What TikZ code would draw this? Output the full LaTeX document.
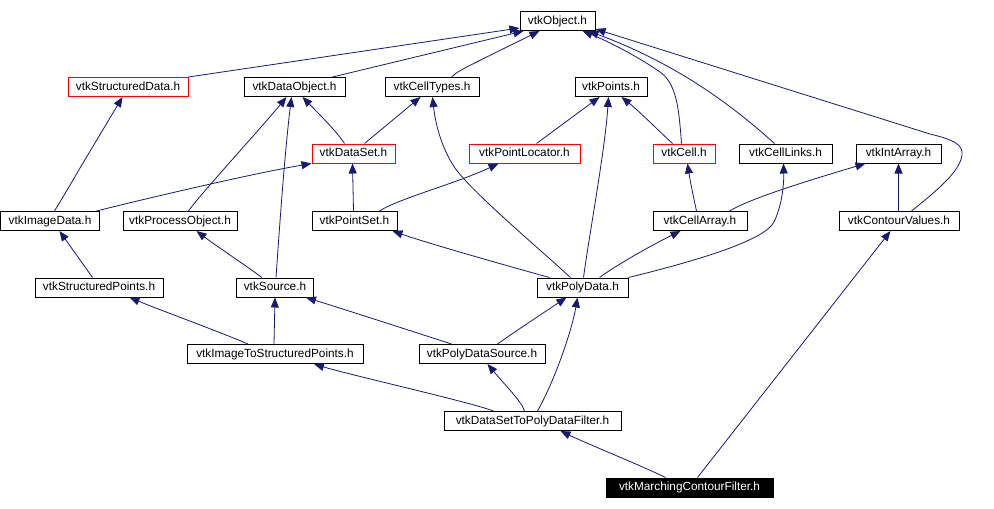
\documentclass[tikz,border=0pt]{standalone}
\usepackage{fontspec}
\setmainfont{Liberation Sans}
\usetikzlibrary{arrows.meta}
\definecolor{edgec}{RGB}{25,25,112}
\begin{document}
\begin{tikzpicture}[x=1pt,y=-1pt,
  box/.style={draw=black, line width=1pt, minimum height=19pt, inner sep=0pt,
    text height=8.6pt, text depth=2.4pt,
    font=\fontsize{11.8}{14}\selectfont, fill=white},
  redbox/.style={box, draw=red},
  blackbox/.style={box, fill=black, text=white},
  dep/.style={draw=edgec, line width=0.8pt, -{Triangle[length=10pt,width=8pt]}}]
\useasboundingbox[fill=white] (0,0) rectangle (994,509);
% row 0
\node[box, minimum width=75pt] (obj) at (557.5,21) {vtkObject.h};
% row 1
\node[redbox, minimum width=120pt] (sdata) at (128,87) {vtkStructuredData.h};
\node[box, minimum width=101pt] (dobj) at (294.5,87) {vtkDataObject.h};
\node[box, minimum width=94pt] (ctypes) at (432,87) {vtkCellTypes.h};
\node[box, minimum width=72pt] (points) at (611,87) {vtkPoints.h};
% row 2
\node[redbox, minimum width=83pt] (dset) at (353.5,153.5) {vtkDataSet.h};
\node[redbox, minimum width=111pt] (ploc) at (524.5,153.5) {vtkPointLocator.h};
\node[redbox, minimum width=62pt] (cell) at (684,153.5) {vtkCell.h};
\node[box, minimum width=93pt] (clinks) at (785.5,153.5) {vtkCellLinks.h};
\node[box, minimum width=85pt] (iarr) at (898.5,153.5) {vtkIntArray.h};
% row 3
\node[box, minimum width=99pt] (idata) at (50,221) {vtkImageData.h};
\node[box, minimum width=114pt] (pobj) at (180,221) {vtkProcessObject.h};
\node[box, minimum width=85pt] (pset) at (354.5,221) {vtkPointSet.h};
\node[box, minimum width=94pt] (carr) at (700,221) {vtkCellArray.h};
\node[box, minimum width=120pt] (cvals) at (899,221) {vtkContourValues.h};
% row 4
\node[box, minimum width=128pt] (spts) at (99,287.5) {vtkStructuredPoints.h};
\node[box, minimum width=77pt] (src) at (275,287.5) {vtkSource.h};
\node[box, minimum width=91pt] (pdata) at (582.5,287.5) {vtkPolyData.h};
% row 5
\node[box, minimum width=176pt] (i2sp) at (275,354) {vtkImageToStructuredPoints.h};
\node[box, minimum width=126pt] (pdsrc) at (482,354) {vtkPolyDataSource.h};
% row 6
\node[box, minimum width=177pt] (ds2pdf) at (532.5,421) {vtkDataSetToPolyDataFilter.h};
% row 7
\node[blackbox, minimum width=167pt] (mcf) at (689.5,487.5) {vtkMarchingContourFilter.h};
% edges
\draw[dep] (sdata.north east) -- ([yshift=3pt]obj.south west);
\draw[dep] ([xshift=89pt]dobj.north west) -- ([xshift=4pt]obj.south west);
\draw[dep] ([xshift=67pt]ctypes.north west) .. controls (458,71) .. ([xshift=20pt]obj.south west);
\draw[dep] ([xshift=29pt]cell.north west) .. controls (679,110) and (677,84) .. (660,72) .. controls (640,58) and (610,42) .. ([xshift=63pt]obj.south west);
\draw[dep] ([xshift=36pt]clinks.north west) .. controls (735,108) and (680,65) .. ([xshift=69pt]obj.south west);
\draw[dep] ([xshift=73pt]cvals.north west) .. controls (935,192) and (960,172) .. (962,155) .. controls (963,145) and (955,140) .. (930,134) -- ([yshift=2pt]obj.south east);
\draw[dep] ([xshift=33pt]dset.north west) .. controls (337,132) and (322,117) .. ([xshift=59pt]dobj.south west);
\draw[dep] ([xshift=53pt]dset.north west) -- ([xshift=36pt]ctypes.south west);
\draw[dep] ([xshift=66pt]pobj.north west) .. controls (197,198) and (262,127) .. ([xshift=43pt]dobj.south west);
\draw[dep] ([xshift=40pt]src.north west) .. controls (280,220) and (285,150) .. ([xshift=48pt]dobj.south west);
\draw[dep] ([xshift=54.5pt]idata.north west) .. controls (63,197) and (72,182) .. (80,168) -- ([xshift=55pt]sdata.south west);
\draw[dep] ([xshift=96.5pt]idata.north west) .. controls (140,200) and (250,174) .. (dset.south west);
\draw[dep] ([xshift=42pt]pset.north west) -- ([xshift=41pt]dset.south west);
\draw[dep] ([xshift=68pt]pset.north west) .. controls (400,198) and (455,184) .. ([xshift=30pt]ploc.south west);
\draw[dep] ([xshift=68pt]ploc.north west) -- ([xshift=25pt]points.south west);
\draw[dep] ([xshift=20pt]cell.north west) .. controls (660,132) and (640,112) .. ([xshift=47pt]points.south west);
\draw[dep] ([xshift=47pt]pdata.north west) .. controls (590,230) and (605,150) .. ([xshift=34pt]points.south west);
\draw[dep] ([xshift=34pt]pdata.north west) .. controls (535,245) and (472,192) .. (455,168) .. controls (440,146) and (435,120) .. ([xshift=48pt]ctypes.south west);
\draw[dep] ([xshift=13pt]pdata.north west) .. controls (515,268) and (430,244) .. ([xshift=81pt]pset.south west);
\draw[dep] ([xshift=63pt]pdata.north west) .. controls (615,266) and (650,246) .. ([xshift=28pt]carr.south west);
\draw[dep] (pdata.north east) .. controls (700,260) and (765,240) .. (774,222) .. controls (782,205) and (784,185) .. ([xshift=45pt]clinks.south west);
\draw[dep] ([xshift=44pt]carr.north west) .. controls (693,195) and (690,180) .. ([xshift=35pt]cell.south west);
\draw[dep] ([xshift=77pt]carr.north west) .. controls (748,200) and (790,186) .. ([xshift=10pt]iarr.south west);
\draw[dep] ([xshift=60pt]cvals.north west) -- ([xshift=43pt]iarr.south west);
\draw[dep] ([xshift=58pt]spts.north west) -- ([xshift=59.5pt]idata.south west);
\draw[dep] ([xshift=26pt]src.north west) .. controls (245,265) and (215,245) .. ([xshift=74pt]pobj.south west);
\draw[dep] ([xshift=61.5pt]i2sp.north west) .. controls (220,332) and (160,310) .. ([xshift=95pt]spts.south west);
\draw[dep] ([xshift=87.5pt]i2sp.north west) -- ([xshift=39pt]src.south west);
\draw[dep] ([xshift=33pt]pdsrc.north west) .. controls (430,337) and (340,308) .. ([xshift=70pt]src.south west);
\draw[dep] ([xshift=79pt]pdsrc.north west) .. controls (510,335) and (540,315) .. ([xshift=30pt]pdata.south west);
\draw[dep] ([xshift=50pt]ds2pdf.north west) .. controls (470,402) and (350,375) .. ([xshift=127.5pt]i2sp.south west);
\draw[dep] ([xshift=81pt]ds2pdf.north west) .. controls (522,402) and (505,385) .. ([xshift=69pt]pdsrc.south west);
\draw[dep] ([xshift=94pt]ds2pdf.north west) .. controls (555,380) and (572,330) .. ([xshift=41pt]pdata.south west);
\draw[dep] ([xshift=60pt]mcf.north west) .. controls (640,465) and (590,445) .. ([xshift=117pt]ds2pdf.south west);
\draw[dep] ([xshift=92pt]mcf.north west) -- ([xshift=52pt]cvals.south west);
\end{tikzpicture}
\end{document}
